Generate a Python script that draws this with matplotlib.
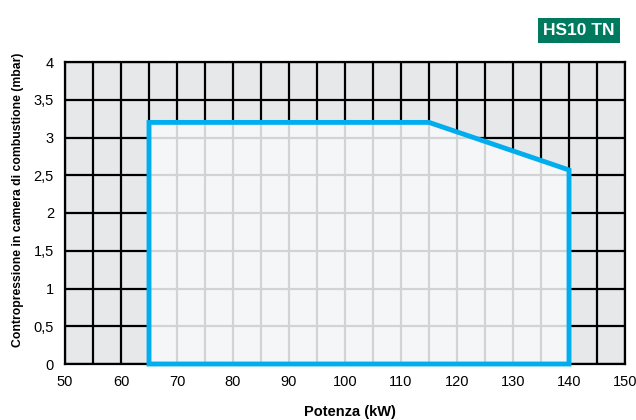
import matplotlib.pyplot as plt
from matplotlib.patches import Polygon

plt.rcParams['font.family'] = ['Liberation Sans', 'DejaVu Sans']

# campo di lavoro HS10 TN
potenza = [65, 65, 115, 140, 140]
contropressione = [0, 3.2, 3.2, 2.57, 0]

x_ticks = list(range(50, 151, 10))
y_ticks = [0, 0.5, 1, 1.5, 2, 2.5, 3, 3.5, 4]
y_labels = ['0', '0,5', '1', '1,5', '2', '2,5', '3', '3,5', '4']

W, H = 636, 420
fig = plt.figure(figsize=(6.36, 4.2), dpi=100)
ax = fig.add_axes([65 / W, 56 / H, 560 / W, 302 / H])
ax.set_xlim(50, 150)
ax.set_ylim(0, 4)
ax.set_facecolor('#e6e8ea')

xs_grid = range(50, 151, 5)
for x in xs_grid:
    ax.axvline(x, color='black', lw=1.6, zorder=1)
for y in y_ticks:
    ax.axhline(y, color='black', lw=1.6, zorder=1)

pts = list(zip(potenza, contropressione))
area = Polygon(pts, closed=True, facecolor='#f5f6f8', edgecolor='none', zorder=2)
ax.add_patch(area)

# griglia chiara dentro il campo
for x in xs_grid:
    l = ax.axvline(x, color='#d2d3d5', lw=1.6, zorder=3)
    l.set_clip_path(area)
for y in y_ticks:
    l = ax.axhline(y, color='#d2d3d5', lw=1.6, zorder=3)
    l.set_clip_path(area)

ax.add_patch(Polygon(pts, closed=True, facecolor='none', edgecolor='#00aeef',
                     lw=3.5, joinstyle='miter', zorder=4, clip_on=False))

for s in ax.spines.values():
    s.set_linewidth(1.6)
ax.set_xticks(x_ticks)
ax.set_yticks(y_ticks, y_labels)
ax.tick_params(length=0, labelsize=10.5, pad=8)

fig.text(350 / W, 1 - 412 / H, 'Potenza (kW)', fontsize=10.5, fontweight='bold',
         ha='center', va='center')
fig.text(18 / W, 1 - 200 / H, 'Contropressione in camera di combustione (mbar)',
         fontsize=8.8, fontweight='bold', rotation=90, ha='center', va='center')

fig.text(579 / W, 1 - 30.5 / H, 'HS10 TN', color='white', fontsize=12.5, fontweight='bold',
         ha='center', va='center',
         bbox=dict(boxstyle='square,pad=0.3', facecolor='#007a5e', edgecolor='none'))

fig.savefig('out.png', dpi=100)
